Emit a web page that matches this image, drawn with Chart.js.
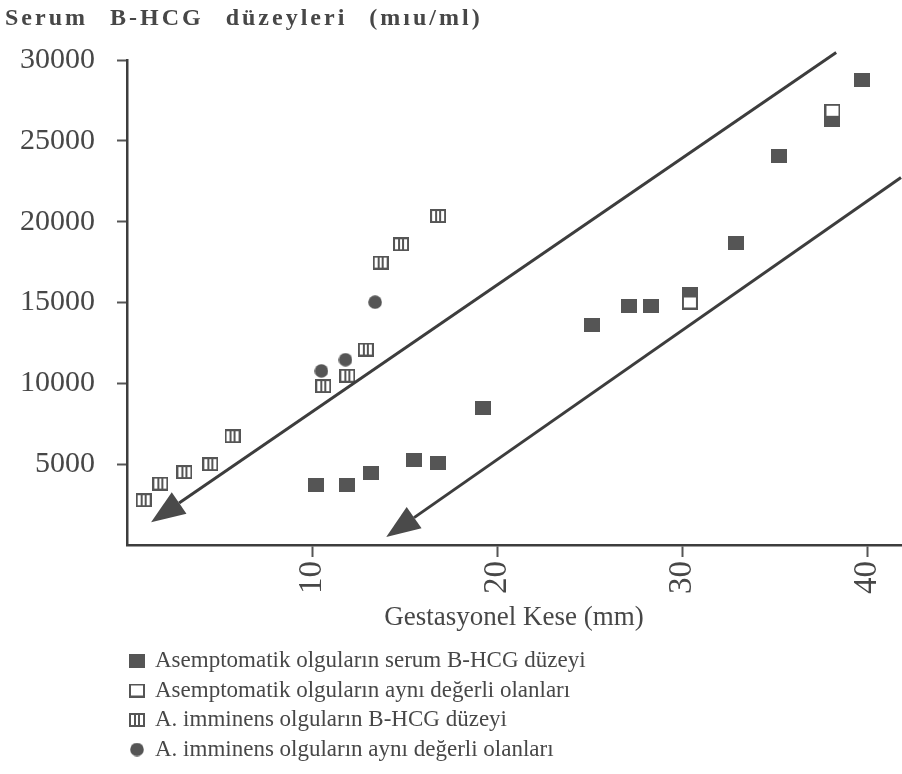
<!DOCTYPE html>
<html lang="tr">
<head>
<meta charset="UTF-8">
<title>Serum B-HCG düzeyleri</title>
<script src="https://cdn.jsdelivr.net/npm/chart.js"></script>
<style>
    html, body { margin: 0; padding: 0; background: #fff; }
</style>
</head>
<body>
<canvas id="hcgChart" width="902" height="774"></canvas>
<script>
    // Values (x = gestational sac mm, y = serum B-HCG mIU/ml)
    const asymX = [10.2, 11.9, 13.2, 15.5, 16.8, 19.2, 25.1, 27.1, 28.3, 30.4, 32.9, 35.2, 38.1, 39.7];
    const asymY = [3730, 3730, 4430, 5230, 5060, 8490, 13600, 14760, 14760, 15530, 18700, 24070, 26280, 28780];

    const asymSameX = [30.4, 38.1];
    const asymSameY = [15000, 26860];

    const imminX = [0.9, 1.8, 3.1, 4.5, 5.7, 10.6, 11.9, 12.9, 13.7, 14.8, 16.8];
    const imminY = [2770, 3800, 4510, 5000, 6730, 9830, 10470, 12090, 17470, 18600, 20350];

    const imminSameX = [10.5, 11.8, 13.4];
    const imminSameY = [10770, 11460, 15020];

    // the two arrows (tail -> head)
    const arrowTailX = [38.3, 41.8];
    const arrowTailY = [30470, 22730];
    const arrowHeadX = [1.3, 14.0];
    const arrowHeadY = [1410, 490];

    const xTickValues = [10, 20, 30, 40];
    const yTickValues = [5000, 10000, 15000, 20000, 25000, 30000];

    const seriesLabels = [
        'Asemptomatik olguların serum B-HCG düzeyi',
        'Asemptomatik olguların aynı değerli olanları',
        'A. imminens olguların B-HCG düzeyi',
        'A. imminens olguların aynı değerli olanları'
    ];
    const chartTitle = 'Serum B-HCG düzeyleri (mıu/ml)';

    const ink = '#555555';
    const lineInk = '#3d3d3d';
    const textInk = '#474747';
    const serif = "'Liberation Serif', 'Times New Roman', serif";

    const zip = (xs, ys) => xs.map((x, i) => ({ x: x, y: ys[i] }));

    // markers drawn once on small canvases and used as point styles
    // (keeps pointRadius tiny so chart.js doesn't reserve overflow room at the right edge)
    function makeMarker(kind) {
        const c = document.createElement('canvas');
        const g = c.getContext('2d');
        if (kind === 'circle') {
            c.width = 14;
            c.height = 14;
            g.fillStyle = ink;
            g.beginPath();
            g.arc(7, 7, 6.8, 0, Math.PI * 2);
            g.fill();
            return c;
        }
        c.width = 16;
        c.height = 14;
        g.fillStyle = ink;
        g.fillRect(0, 0, 16, 14);
        if (kind === 'open') {
            g.fillStyle = '#fff';
            g.fillRect(2, 2, 12, 10);
        }
        if (kind === 'striped') {
            g.fillStyle = '#fff';
            g.fillRect(2, 2, 12, 10);
            g.fillStyle = ink;
            g.fillRect(5, 2, 2, 10);
            g.fillRect(9, 2, 2, 10);
        }
        return c;
    }
    const filledMark = makeMarker('filled');
    const openMark = makeMarker('open');
    const stripedMark = makeMarker('striped');
    const dotMark = makeMarker('circle');

    // arrows drawn through the scales
    const arrowPlugin = {
        id: 'arrows',
        afterDatasetsDraw(chart) {
            const { ctx, scales: { x, y } } = chart;
            ctx.save();
            ctx.strokeStyle = lineInk;
            ctx.fillStyle = '#4a4a4a';
            ctx.lineWidth = 3;
            arrowTailX.forEach((_, i) => {
                const x0 = x.getPixelForValue(arrowTailX[i]);
                const y0 = y.getPixelForValue(arrowTailY[i]);
                const x1 = x.getPixelForValue(arrowHeadX[i]);
                const y1 = y.getPixelForValue(arrowHeadY[i]);
                const a = Math.atan2(y1 - y0, x1 - x0);
                const len = 34, half = 13;
                const bx = x1 - len * Math.cos(a);
                const by = y1 - len * Math.sin(a);
                ctx.beginPath();
                ctx.moveTo(x0, y0);
                ctx.lineTo(bx, by);
                ctx.stroke();
                ctx.beginPath();
                ctx.moveTo(x1, y1);
                ctx.lineTo(bx + half * Math.sin(a), by - half * Math.cos(a));
                ctx.lineTo(bx - half * Math.sin(a), by + half * Math.cos(a));
                ctx.closePath();
                ctx.fill();
            });
            ctx.restore();
        }
    };

    // spaced bold title top-left and a vertical legend under the axis
    const textPlugin = {
        id: 'titleAndLegend',
        afterDraw(chart) {
            const ctx = chart.ctx;
            ctx.save();
            ctx.fillStyle = textInk;
            ctx.font = 'bold 24px ' + serif;
            ctx.letterSpacing = '3px';
            ctx.wordSpacing = '13px';
            ctx.textBaseline = 'alphabetic';
            ctx.fillText(chartTitle, 5, 25);
            ctx.restore();

            ctx.save();
            ctx.font = '23px ' + serif;
            ctx.textBaseline = 'middle';
            const top = chart.height - 113;
            chart.data.datasets.forEach((ds, i) => {
                const yy = top + i * 29.5;
                Chart.helpers.drawPoint(ctx, {
                    pointStyle: ds.pointStyle, radius: 8, rotation: 0, borderWidth: 0
                }, 137, yy);
                ctx.fillStyle = textInk;
                ctx.fillText(ds.label, 155, yy);
            });
            ctx.restore();
        }
    };

    const markerOpts = { pointRadius: 1, pointHoverRadius: 1, borderWidth: 0 };

    new Chart(document.getElementById('hcgChart'), {
        type: 'scatter',
        data: {
            datasets: [
                { label: seriesLabels[0], data: zip(asymX, asymY), pointStyle: filledMark, order: 3, ...markerOpts },
                { label: seriesLabels[1], data: zip(asymSameX, asymSameY), pointStyle: openMark, order: 1, ...markerOpts },
                { label: seriesLabels[2], data: zip(imminX, imminY), pointStyle: stripedMark, order: 2, ...markerOpts },
                { label: seriesLabels[3], data: zip(imminSameX, imminSameY), pointStyle: dotMark, order: 0, ...markerOpts }
            ]
        },
        options: {
            responsive: false,
            animation: false,
            layout: { padding: { top: 60, left: 5, right: 0, bottom: 140 } },
            plugins: {
                legend: { display: false },
                tooltip: { enabled: false },
                title: { display: false }
            },
            scales: {
                x: {
                    type: 'linear',
                    min: 0,
                    max: 41.8,
                    afterBuildTicks: s => { s.ticks = xTickValues.map(v => ({ value: v })); },
                    // the rotated "40" would otherwise reserve room on the right; the axis runs to the edge
                    afterFit: s => { s.height = 89; s.paddingLeft = 0; s.paddingRight = 0; },
                    ticks: {
                        font: { family: serif, size: 33 },
                        color: textInk,
                        minRotation: 90,
                        maxRotation: 90,
                        padding: 4,
                        callback: v => String(v)
                    },
                    grid: { drawOnChartArea: false, tickLength: 12, tickWidth: 2, tickColor: ink },
                    border: { color: lineInk, width: 2.5 },
                    title: {
                        display: true,
                        text: 'Gestasyonel Kese (mm)',
                        font: { family: serif, size: 27 },
                        color: textInk,
                        padding: 0
                    }
                },
                y: {
                    type: 'linear',
                    min: 0,
                    max: 30000,
                    afterBuildTicks: s => { s.ticks = yTickValues.map(v => ({ value: v })); },
                    afterFit: s => { s.width = 122; },
                    ticks: {
                        font: { family: serif, size: 30 },
                        color: textInk,
                        padding: 22,
                        callback: v => String(v)
                    },
                    grid: { drawOnChartArea: false, tickLength: 10, tickWidth: 2, tickColor: ink },
                    border: { color: lineInk, width: 2.5 }
                }
            }
        },
        plugins: [arrowPlugin, textPlugin]
    });
</script>
</body>
</html>
